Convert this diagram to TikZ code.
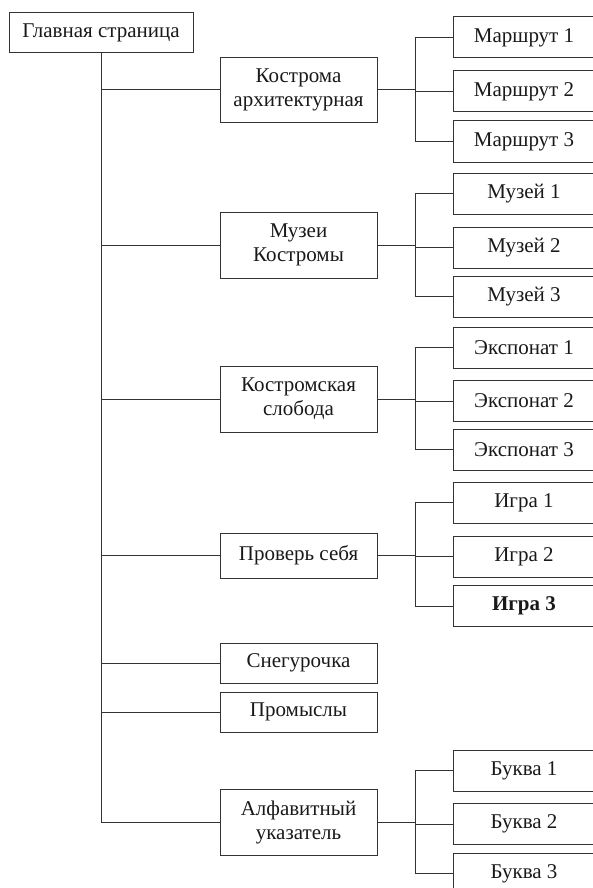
\documentclass[tikz,border=0pt]{standalone}
\usepackage{fontspec}
\setmainfont{Liberation Serif}
\begin{document}
\begin{tikzpicture}[x=1pt,y=-1pt,
  box/.style={draw=black!80, line width=1pt, rectangle, inner sep=0pt, align=center,
    font=\fontsize{21}{24}\selectfont, text=black!90},
  mid/.style={box, minimum width=157pt},
  leaf/.style={box, minimum width=142pt, minimum height=41pt},
  conn/.style={draw=black!80, line width=1pt}]
\useasboundingbox (0,0) rectangle (593,888);
\clip (0,0) rectangle (593,888);
% root
\node[box, minimum width=184pt, minimum height=40pt] (root) at (101,33) {Главная страница};
% level 1
\node[mid, minimum height=65pt] (a1) at (298.5,90) {Кострома\\архитектурная};
\node[mid, minimum height=66pt] (a2) at (298.5,245) {Музеи\\Костромы};
\node[mid, minimum height=66pt] (a3) at (298.5,399) {Костромская\\слобода};
\node[mid, minimum height=45pt] (a4) at (298.5,555.5) {Проверь себя};
\node[mid, minimum height=40pt] (a5) at (298.5,663) {Снегурочка};
\node[mid, minimum height=40pt] (a6) at (298.5,712) {Промыслы};
\node[mid, minimum height=66pt] (a7) at (298.5,822) {Алфавитный\\указатель};
% leaves
\node[leaf] (m1) at (524,37.5) {Маршрут 1};
\node[leaf] (m2) at (524,91.5) {Маршрут 2};
\node[leaf] (m3) at (524,141.5) {Маршрут 3};
\node[leaf] (u1) at (524,193.5) {Музей 1};
\node[leaf] (u2) at (524,247.5) {Музей 2};
\node[leaf] (u3) at (524,296.5) {Музей 3};
\node[leaf] (e1) at (524,347.5) {Экспонат 1};
\node[leaf] (e2) at (524,401) {Экспонат 2};
\node[leaf] (e3) at (524,449.5) {Экспонат 3};
\node[leaf] (g1) at (524,502.5) {Игра 1};
\node[leaf] (g2) at (524,556.5) {Игра 2};
\node[leaf] (g3) at (524,606) {\bfseries Игра 3};
\node[leaf] (b1) at (524,770.5) {Буква 1};
\node[leaf] (b2) at (524,824) {Буква 2};
\node[leaf] (b3) at (524,873.5) {Буква 3};
% trunk
\draw[conn] (root.south) -- (root.south |- a7.west) -- (a7.west);
\foreach \n in {a1,a2,a3,a4,a5,a6}
  \draw[conn] (\n.west) -- (\n.west -| root.south);
% groups
\foreach \p/\x/\y/\z in {a1/m1/m2/m3, a2/u1/u2/u3, a3/e1/e2/e3, a4/g1/g2/g3, a7/b1/b2/b3}{
  \draw[conn] (\x.west) -- ++(-37,0) coordinate (bus) |- (\z.west);
  \draw[conn] (\p.east) -- (\p.east -| bus);
  \draw[conn] (\y.west) -- (\y.west -| bus);
}
\end{tikzpicture}
\end{document}
